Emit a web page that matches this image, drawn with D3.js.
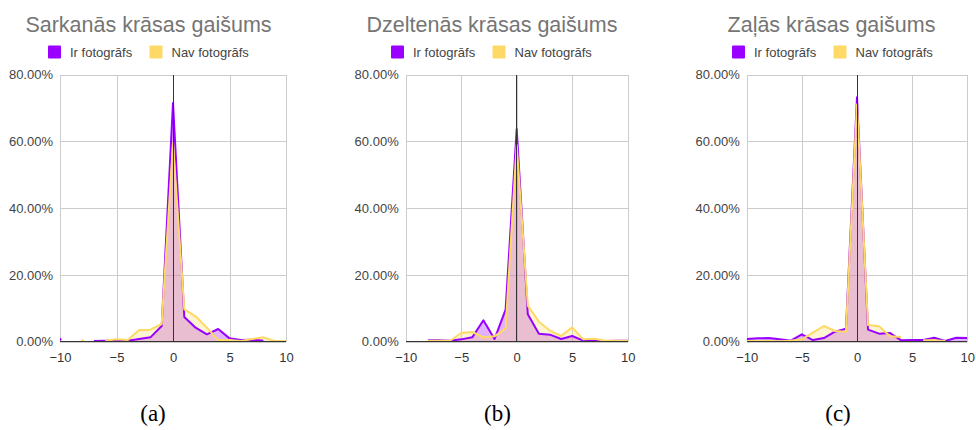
<!DOCTYPE html>
<html>
<head>
<meta charset="utf-8">
<script src="https://cdn.jsdelivr.net/npm/d3@7"></script>
<style>
  html, body { margin: 0; padding: 0; background: #fff; }
  svg { display: block; }
</style>
</head>
<body>
<svg id="chart" width="976" height="430"></svg>
<script>
// Brightness difference steps on the horizontal axis
const steps = [-10, -9, -8, -7, -6, -5, -4, -3, -2, -1, 0, 1, 2, 3, 4, 5, 6, 7, 8, 9, 10];
const xTickValues = [-10, -5, 0, 5, 10];
const yTickValues = [0, 20, 40, 60, 80];

const titles = ["Sarkanās krāsas gaišums", "Dzeltenās krāsas gaišums", "Zaļās krāsas gaišums"];
const captions = ["(a)", "(b)", "(c)"];
const seriesNames = ["Ir fotogrāfs", "Nav fotogrāfs"];

// Share of images (%) per step; null = no data
const redWith    = [0.7, null, null, 0.2, 0.3, 0.3, 0.3, 0.8, 1.3, 4.7, 71.5, 7.4, 4.2, 2.2, 3.8, 1.0, 0.5, 0.6, 0.3, null, null];
const redWithout = [null, null, 0.3, null, 0.3, 0.7, 0.5, 3.5, 3.6, 5.3, 59.5, 9.7, 7.6, 4.2, 0.5, 0.5, 0.2, 0.8, 1.3, 0.2, 0.2];

const yellowWith    = [null, null, 0.4, 0.4, 0.3, 0.7, 1.3, 6.4, 0.8, 9.6, 63.7, 8.2, 2.4, 2.1, 0.8, 1.7, 0.3, 0.3, 0.2, 0.3, 0.3];
const yellowWithout = [null, null, 0.3, 0.3, 0.3, 2.6, 2.9, 1.3, 1.6, 4.0, 58.9, 10.8, 6.0, 3.3, 1.7, 4.3, 0.7, 0.9, 0.3, 0.3, 0.3];

const greenWith    = [0.8, 1.0, 1.1, 0.7, 0.3, 2.2, 0.5, 1.1, 3.0, 3.9, 73.2, 3.6, 2.4, 2.6, 0.4, 0.5, 0.5, 1.2, 0.2, 1.2, 1.1];
const greenWithout = [0.2, 0.2, 0.2, 0.1, 0.3, 0.7, 2.7, 4.7, 3.2, 3.0, 71.0, 5.0, 4.6, 1.6, 1.4, null, 0.4, 0.4, 0.2, null, null];

const panelSeries = [
  [redWith, redWithout],
  [yellowWith, yellowWithout],
  [greenWith, greenWithout]
];

// Layout of the three small charts
const panels = [
  { left: 60,    right: 286,   titleX: 148.5, legendX: 48,  captionX: 153 },
  { left: 405.7, right: 627.7, titleX: 492,   legendX: 391, captionX: 497.5 },
  { left: 746.7, right: 967.3, titleX: 831.5, legendX: 732, captionX: 838 }
];
const plotTop = 74.5, plotBottom = 341.7;

const colors = ["#9900ff", "#ffd966"];
const font = "'Liberation Sans', Arial, sans-serif";

const svg = d3.select("#chart");
const fmtPct = d => d.toFixed(2) + "%";

panels.forEach((p, i) => {
  const x = d3.scaleLinear().domain([-10, 10]).range([p.left, p.right]);
  const y = d3.scaleLinear().domain([0, 80]).range([plotBottom, plotTop]);
  const g = svg.append("g");

  // Title
  g.append("text")
    .attr("x", p.titleX).attr("y", 31.5)
    .attr("text-anchor", "middle")
    .style("font-family", font).style("font-size", "21.5px")
    .attr("fill", "#757575")
    .text(titles[i]);

  // Legend
  const lg = g.append("g").attr("transform", `translate(${p.legendX},45.5)`);
  seriesNames.forEach((name, k) => {
    const off = k * 101.5;
    lg.append("rect").attr("x", off).attr("y", 0).attr("width", 13).attr("height", 13)
      .attr("rx", 1).attr("fill", colors[k]);
    lg.append("text").attr("x", off + 22).attr("y", 11)
      .style("font-family", font).style("font-size", "13px")
      .attr("fill", "#444").text(name);
  });

  // Grid lines
  const xGrid = d3.axisBottom(x).tickValues(xTickValues).tickSize(-(plotBottom - plotTop)).tickFormat("");
  g.append("g").attr("transform", `translate(0,${plotBottom})`).call(xGrid)
    .call(s => s.select(".domain").remove())
    .call(s => s.selectAll("line").attr("stroke", "#cccccc").attr("shape-rendering", "crispEdges"));
  const yGrid = d3.axisLeft(y).tickValues(yTickValues).tickSize(-(p.right - p.left)).tickFormat("");
  g.append("g").attr("transform", `translate(${p.left},0)`).call(yGrid)
    .call(s => s.select(".domain").remove())
    .call(s => s.selectAll("line").attr("stroke", "#cccccc").attr("shape-rendering", "crispEdges"));

  // Tick labels
  const xAxis = d3.axisBottom(x).tickValues(xTickValues).tickSize(0).tickPadding(11).tickFormat(d3.format("d"));
  g.append("g").attr("transform", `translate(0,${plotBottom})`).call(xAxis)
    .call(s => s.select(".domain").remove())
    .call(s => s.selectAll("text").style("font-family", font).style("font-size", "13px").attr("fill", "#333"));
  const yAxis = d3.axisLeft(y).tickValues(yTickValues).tickSize(0).tickPadding(7).tickFormat(fmtPct);
  g.append("g").attr("transform", `translate(${p.left},0)`).call(yAxis)
    .call(s => s.select(".domain").remove())
    .call(s => s.selectAll("text").style("font-family", font).style("font-size", "13px").attr("fill", "#444"));

  // Clip region for the data
  const clipId = "clip" + i;
  svg.append("clipPath").attr("id", clipId).append("rect")
    .attr("x", p.left).attr("y", plotTop - 2).attr("width", p.right - p.left).attr("height", plotBottom - plotTop + 2);
  const data = g.append("g").attr("clip-path", `url(#${clipId})`);

  const series = panelSeries[i].map(vals => steps.map((s, j) => ({ s, v: vals[j] })));

  const area = d3.area().defined(d => d.v != null)
    .x(d => x(d.s)).y0(y(0)).y1(d => y(d.v));
  const line = d3.line().defined(d => d.v != null)
    .x(d => x(d.s)).y(d => y(d.v));

  // Filled areas
  series.forEach((ser, k) => {
    data.append("path").datum(ser).attr("d", area)
      .attr("fill", colors[k]).attr("fill-opacity", 0.3);
  });

  // Baselines (zero on both axes)
  g.append("line").attr("x1", x(0)).attr("x2", x(0)).attr("y1", plotTop).attr("y2", plotBottom)
    .attr("stroke", "#333").attr("stroke-width", 1).attr("shape-rendering", "crispEdges");
  g.append("line").attr("x1", p.left).attr("x2", p.right).attr("y1", y(0)).attr("y2", y(0))
    .attr("stroke", "#333").attr("stroke-width", 1).attr("shape-rendering", "crispEdges");

  // Lines, plus dots for points without neighbours
  series.forEach((ser, k) => {
    data.append("path").datum(ser).attr("d", line)
      .attr("fill", "none").attr("stroke", colors[k]).attr("stroke-width", 2)
      .attr("stroke-linejoin", "round");
    const lonely = ser.filter((d, j) => d.v != null &&
      (j === 0 || ser[j - 1].v == null) && (j === ser.length - 1 || ser[j + 1].v == null));
    data.selectAll(null).data(lonely).enter().append("circle")
      .attr("cx", d => x(d.s)).attr("cy", d => y(d.v)).attr("r", 1.5)
      .attr("fill", colors[k]);
  });

  // Sub-figure caption
  svg.append("text")
    .attr("x", p.captionX).attr("y", 421)
    .attr("text-anchor", "middle")
    .style("font-family", "'Liberation Serif', 'Times New Roman', serif").style("font-size", "23px")
    .attr("fill", "#000")
    .text(captions[i]);
});
</script>
</body>
</html>
